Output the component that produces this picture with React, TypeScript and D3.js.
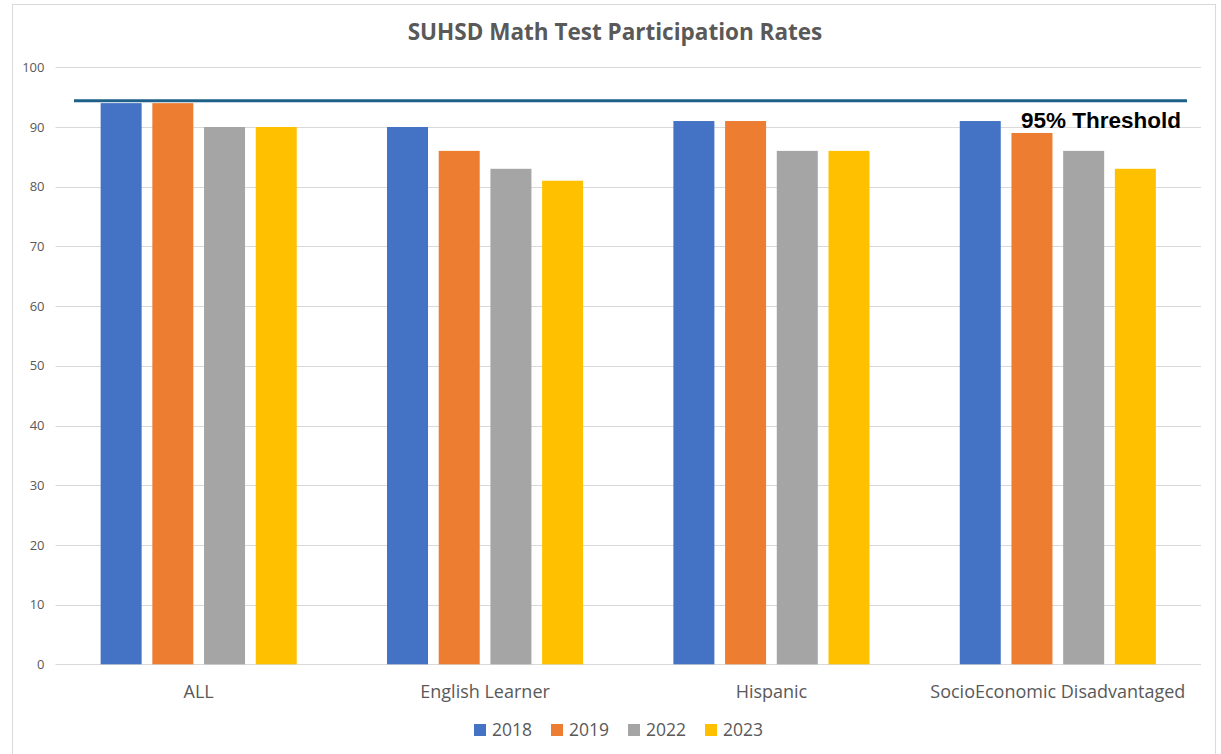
import React, { useEffect, useRef } from "react";
import * as d3 from "d3";

const categories = ["ALL", "English Learner", "Hispanic", "SocioEconomic Disadvantaged"];
const years = ["2018", "2019", "2022", "2023"];
const rates2018 = [94, 90, 91, 91];
const rates2019 = [94, 86, 91, 89];
const rates2022 = [90, 83, 86, 86];
const rates2023 = [90, 81, 86, 83];
const yTicks = [0, 10, 20, 30, 40, 50, 60, 70, 80, 90, 100];
const thresholdValue = 94.4;
const thresholdLabel = "95% Threshold";
const colors = ["#4472c4", "#ed7d31", "#a5a5a5", "#ffc000"];

const W = 1221;
const H = 754;

const App = () => {
  const ref = useRef<SVGSVGElement>(null);

  useEffect(() => {
    if (!ref.current) return;
    const svg = d3.select(ref.current);
    svg.selectAll("*").remove();

    const series = [rates2018, rates2019, rates2022, rates2023];
    const font = "'Open Sans', 'Liberation Sans', sans-serif";

    // chart frame
    svg.append("rect")
      .attr("x", 12.5).attr("y", 4.5)
      .attr("width", 1203).attr("height", 760)
      .attr("fill", "#fff")
      .attr("stroke", "#d9d9d9");

    svg.append("text")
      .attr("x", 615).attr("y", 40)
      .attr("text-anchor", "middle")
      .attr("font-family", font)
      .attr("font-weight", 700)
      .attr("font-size", 22.5)
      .attr("fill", "#595959")
      .text("SUHSD Math Test Participation Rates");

    const left = 55.5, right = 1201;
    const y = d3.scaleLinear().domain([0, 100]).range([664.3, 67.3]);
    const x0 = d3.scaleBand().domain(categories).range([left, right]);
    const x1 = d3.scaleBand().domain(years).range([0, x0.bandwidth()])
      .paddingInner(0.207).paddingOuter(0.873);

    // gridlines
    svg.append("g")
      .selectAll("line")
      .data(yTicks)
      .join("line")
      .attr("x1", left).attr("x2", right)
      .attr("y1", (d) => Math.round(y(d)) + 0.5)
      .attr("y2", (d) => Math.round(y(d)) + 0.5)
      .attr("stroke", "#d9d9d9");

    const yAxis = svg.append("g")
      .attr("transform", `translate(${left},0)`)
      .call(d3.axisLeft(y).tickValues(yTicks).tickSize(0).tickPadding(11));
    yAxis.select(".domain").remove();
    yAxis.selectAll("text")
      .attr("font-family", font)
      .attr("font-size", 13)
      .attr("fill", "#595959");

    // bars
    const groups = svg.append("g")
      .selectAll("g")
      .data(categories)
      .join("g")
      .attr("transform", (d) => `translate(${x0(d)},0)`);

    groups.selectAll("rect")
      .data((_, ci) => years.map((yr, si) => ({ yr, si, v: series[si][ci] })))
      .join("rect")
      .attr("x", (d) => x1(d.yr)!)
      .attr("width", x1.bandwidth())
      .attr("y", (d) => y(d.v))
      .attr("height", (d) => y(0) - y(d.v))
      .attr("fill", (d) => colors[d.si]);

    const xAxis = svg.append("g")
      .attr("transform", `translate(0,${y(0)})`)
      .call(d3.axisBottom(x0).tickSize(0).tickPadding(21));
    xAxis.select(".domain").remove();
    xAxis.selectAll("text")
      .attr("font-family", font)
      .attr("font-size", 18)
      .attr("fill", "#595959");

    // threshold
    svg.append("line")
      .attr("x1", 74).attr("x2", 1187)
      .attr("y1", y(thresholdValue)).attr("y2", y(thresholdValue))
      .attr("stroke", "#1f6088")
      .attr("stroke-width", 3);

    svg.append("text")
      .attr("x", 1181).attr("y", 128)
      .attr("text-anchor", "end")
      .attr("font-family", "'Liberation Sans', Arial, sans-serif")
      .attr("font-weight", 700)
      .attr("font-size", 22.5)
      .attr("fill", "#000")
      .text(thresholdLabel);

    // legend
    const legend = svg.append("g").attr("transform", "translate(474,730)");
    const items = legend.selectAll("g")
      .data(years)
      .join("g")
      .attr("transform", (_, i) => `translate(${i * 77},0)`);
    items.append("rect")
      .attr("x", 0).attr("y", -6)
      .attr("width", 12).attr("height", 12)
      .attr("fill", (_, i) => colors[i]);
    items.append("text")
      .attr("x", 18).attr("y", 0)
      .attr("dy", "0.35em")
      .attr("font-family", font)
      .attr("font-size", 17.5)
      .attr("fill", "#595959")
      .text((d) => d);
  }, []);

  return <svg ref={ref} width={W} height={H} style={{ position: "absolute", left: 0, top: 0 }} />;
};

export default App;
